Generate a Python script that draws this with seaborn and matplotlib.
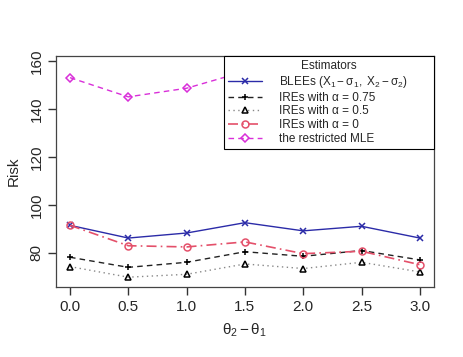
import numpy as np
import pandas as pd
import matplotlib
matplotlib.use("Agg")
import matplotlib.pyplot as plt
import seaborn as sns

# differences theta2 - theta1
theta_diff = [0.0, 0.5, 1.0, 1.5, 2.0, 2.5, 3.0]

# risk values
risk_blee = [91.5, 86.2, 88.3, 92.6, 89.2, 91.1, 86.2]
risk_ire_075 = [78.2, 74.0, 76.1, 80.5, 78.6, 81.0, 77.1]
risk_ire_05 = [74.3, 69.9, 71.1, 75.4, 73.5, 76.1, 72.1]
risk_ire_0 = [91.5, 83.0, 82.5, 84.6, 79.7, 80.7, 75.1]
# points from 1.5 on are hidden under the legend, values estimated
risk_mle = [153.0, 145.0, 148.6, 155.6, 153.0, 155.0, 152.0]

x_ticks = [0.0, 0.5, 1.0, 1.5, 2.0, 2.5, 3.0]
x_tick_labels = ["0.0", "0.5", "1.0", "1.5", "2.0", "2.5", "3.0"]
y_ticks = [80, 100, 120, 140, 160]

labels = [
    r"BLEEs $(\mathregular{X_1 - \sigma_1,\ X_2 - \sigma_2})$",
    "IREs with α = 0.75",
    "IREs with α = 0.5",
    "IREs with α = 0",
    "the restricted MLE",
]

sns.set_style("ticks")
plt.rcParams["font.family"] = ["Liberation Sans", "DejaVu Sans"]
plt.rcParams["mathtext.fontset"] = "custom"
plt.rcParams["mathtext.rm"] = "Liberation Sans"
plt.rcParams["mathtext.it"] = "Liberation Sans"

fig = plt.figure(figsize=(4.63, 3.57), dpi=100)
ax = fig.add_axes([0.121, 0.196, 0.816, 0.647])

series = [
    (risk_blee, "#2B2BA8", "-", "x", 1.0),
    (risk_ire_075, "#222222", (0, (4, 3)), "+", 1.0),
    (risk_ire_05, "#888888", (0, (1, 2.5)), "^", 1.0),
    (risk_ire_0, "#E4506A", (0, (6, 2.5, 1, 2.5)), "o", 1.2),
    (risk_mle, "#D92FD9", (0, (4, 3)), "D", 1.0),
]

for (vals, col, ls, mk, lw), lab in zip(series, labels):
    df = pd.DataFrame({"x": theta_diff, "y": vals})
    mec = col
    if mk in ("^", "+"):
        mec = "black"
    sns.lineplot(data=df, x="x", y="y", ax=ax, color=col, linestyle=ls,
                 linewidth=lw, marker=mk, markersize=5 if mk != "D" else 4.5,
                 markerfacecolor="none", markeredgecolor=mec,
                 markeredgewidth=1.1, label=lab)

ax.set_xlim(-0.12, 3.12)
ax.set_ylim(65.8, 162)
ax.set_xticks(x_ticks)
ax.set_xticklabels(x_tick_labels)
ax.set_yticks(y_ticks)
ax.set_yticklabels([str(v) for v in y_ticks], rotation=90, va="center")
ax.tick_params(axis="both", which="major", direction="out", length=6, width=1.0,
               color="#333333", labelsize=11, pad=3, left=True, bottom=True)
for sp in ax.spines.values():
    sp.set_visible(True)
    sp.set_color("#444444")
    sp.set_linewidth(0.9)

ax.set_xlabel(r"$\mathregular{\theta_2 - \theta_1}$", fontsize=11, labelpad=6)
ax.set_ylabel("Risk", fontsize=11, labelpad=6)

leg_w = 210 / 378
leg = ax.legend(loc="upper right", bbox_to_anchor=(1.0 - leg_w, 0.0, leg_w, 1.0),
                mode="expand", borderaxespad=0,
                title="Estimators", fontsize=8.5, title_fontsize=8.5,
                fancybox=False, framealpha=1, edgecolor="black",
                handlelength=2.9, handletextpad=1.4, labelspacing=0.15,
                borderpad=0.35)
leg.get_frame().set_linewidth(0.8)

fig.savefig("out.png", dpi=100)
